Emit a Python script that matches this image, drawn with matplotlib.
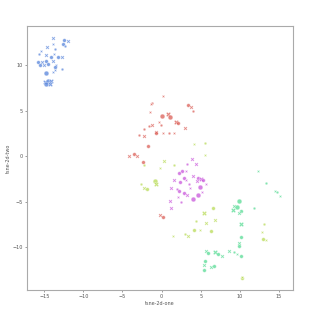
import numpy as np
import matplotlib
matplotlib.use('Agg')
import matplotlib.pyplot as plt
import seaborn as sns

# --------- Data ---------
# size code: 1 small, 2 medium, 3 large
blue_x = [-13.94, -12.53, -12.02, -12.58, -13.90, -12.28, -14.58, -13.64, -15.35, -15.65,
          -14.71, -14.19, -13.77, -13.26, -12.79, -15.78, -15.27, -14.71, -13.94, -15.52,
          -15.09, -14.54, -13.55, -13.61, -13.68, -12.79, -13.86, -14.83, -14.96, -14.50,
          -14.07, -14.71, -14.25]
blue_y = [13.02, 12.72, 12.61, 12.36, 12.36, 12.14, 11.99, 11.77, 11.55, 11.22,
          11.11, 10.89, 11.26, 10.85, 10.85, 10.37, 10.34, 10.41, 10.48, 10.01,
          10.01, 10.12, 10.01, 9.75, 9.49, 9.57, 9.24, 9.09, 8.20, 8.25,
          8.25, 7.95, 7.95]
blue_s = [2, 2, 2, 2, 1, 1, 2, 1, 1, 1, 2, 2, 1, 2, 2, 2, 2, 2, 2, 2,
          2, 2, 1, 2, 1, 1, 1, 3, 3, 3, 3, 3, 3]

red_x = [0.13, -1.20, -1.37, 3.36, 3.75, 4.04, -1.46, 0.04, 0.77, 1.06,
         -0.31, -0.05, 1.83, 2.12, -1.28, -1.66, 3.02, -2.26, -0.77, -0.77,
         0.20, 0.93, 1.61, -2.94, -2.26, -1.79, -4.22, -3.58, -3.16, -2.35,
         -0.18, 0.17]
red_y = [6.66, 5.89, 5.72, 5.64, 5.39, 4.98, 4.83, 4.46, 4.61, 4.28,
         3.80, 3.47, 3.80, 3.69, 3.47, 3.33, 3.11, 2.99, 2.70, 2.59,
         2.59, 2.52, 2.59, 2.37, 2.26, 1.09, -0.01, 0.21, 0.06, -0.64,
         -6.51, -6.66]
red_s = [1, 1, 1, 2, 2, 1, 1, 3, 3, 3, 1, 1, 3, 2, 2, 1, 2, 1, 2, 2,
         1, 1, 1, 1, 2, 2, 2, 2, 2, 2, 2, 2]

lime_x = [4.13, 5.54, 5.50, -2.26, 0.33, 1.61, -0.22, -0.82, -0.73, -2.69,
          -2.23, -1.84, 5.37, 6.52, 6.85, 4.39, 5.66, 4.13, 4.90, 6.27,
          1.41, 2.98, 3.32, 13.15, 12.86, 12.99, 13.30, 10.23, 10.31]
lime_y = [1.31, 1.49, 0.13, -1.00, -0.56, -0.94, -1.30, -2.70, -3.03, -3.09,
          -3.47, -3.65, -6.29, -5.74, -7.06, -7.17, -7.36, -8.13, -8.13, -8.27,
          -8.76, -8.54, -8.82, -7.47, -8.38, -9.09, -9.23, -13.41, -13.30]
lime_s = [1, 1, 1, 1, 2, 1, 1, 3, 3, 1, 2, 2, 3, 2, 2, 1, 2, 2, 1, 2,
          1, 1, 2, 1, 1, 2, 1, 2, 1]

magenta_x = [3.84, 3.27, 4.39, 2.60, 3.15, 2.21, 4.04, 2.89, 1.61, 2.30,
             3.11, 4.68, 5.03, 5.32, 4.55, 3.45, 5.70, 4.94, 1.19, 1.96,
             3.66, 2.25, 5.15, 2.89, 3.24, 4.60, 2.12, 3.96, 1.06, 2.51, 1.19]
magenta_y = [-0.34, -0.89, -0.89, -1.60, -1.63, -1.82, -2.15, -2.37, -2.65, -2.87,
             -2.62, -2.43, -2.54, -2.65, -2.76, -3.03, -3.03, -3.36, -3.54, -3.65,
             -3.50, -3.80, -3.91, -4.09, -4.31, -4.31, -4.53, -4.75, -4.93, -5.04, -5.74]
magenta_s = [2, 1, 2, 2, 1, 2, 2, 2, 2, 2, 1, 2, 3, 2, 2, 1, 1, 3, 2, 1,
             1, 2, 1, 2, 2, 3, 1, 3, 2, 1, 2]

green_x = [12.35, 13.38, 14.45, 14.71, 15.17, 9.92, 9.25, 9.59, 9.12, 10.10,
           9.92, 11.84, 10.10, 10.14, 9.92, 9.92, 8.61, 9.21, 9.59, 10.14,
           5.66, 5.96, 6.85, 7.20, 7.67, 5.54, 5.45, 5.37, 6.34, 6.73]
green_y = [-1.60, -2.92, -3.83, -3.98, -4.38, -4.90, -5.48, -5.59, -5.93, -6.00,
           -6.22, -5.70, -7.50, -8.87, -9.56, -9.92, -10.41, -10.58, -10.80, -11.02,
           -10.41, -10.63, -10.52, -10.74, -11.02, -11.54, -12.01, -12.53, -12.17, -12.13]
green_s = [1, 1, 1, 1, 1, 3, 2, 3, 3, 2, 2, 1, 3, 2, 2, 2, 2, 1, 1, 2,
           2, 2, 3, 2, 2, 2, 2, 2, 2, 2]

palette = sns.color_palette("hls", 5)
groups = [
    (red_x, red_y, red_s, palette[0]),
    (lime_x, lime_y, lime_s, palette[1]),
    (green_x, green_y, green_s, palette[2]),
    (blue_x, blue_y, blue_s, palette[3]),
    (magenta_x, magenta_y, magenta_s, palette[4]),
]
size_map = {1: 3.5, 2: 7, 3: 12}

# --------- Plot ---------
fig = plt.figure(figsize=(3.14, 3.14), dpi=100)
ax = fig.add_axes([0.086, 0.076, 0.847, 0.841])

for gx, gy, gs, col in groups:
    for i in range(len(gx)):
        marker = 'X' if i % 2 == 0 else 'o'
        ax.scatter(gx[i], gy[i], s=size_map[gs[i]], color=col, marker=marker,
                   alpha=0.75, linewidths=0.3, edgecolors='white')

ax.set_xlim(-17.2, 16.8)
ax.set_ylim(-14.75, 14.3)
ax.set_xticks([-15, -10, -5, 0, 5, 10, 15])
ax.set_yticks([-10, -5, 0, 5, 10])
ax.set_xlabel('tsne-2d-one', fontsize=3.5, color='#555555', labelpad=1.5)
ax.set_ylabel('tsne-2d-two', fontsize=3.5, color='#555555', labelpad=1.5)
ax.tick_params(labelsize=3.5, colors='#555555', length=1.5, width=0.4, pad=1.5)
for sp in ax.spines.values():
    sp.set_color('#aaaaaa')
    sp.set_linewidth(0.8)

plt.savefig('out.png', dpi=100)
